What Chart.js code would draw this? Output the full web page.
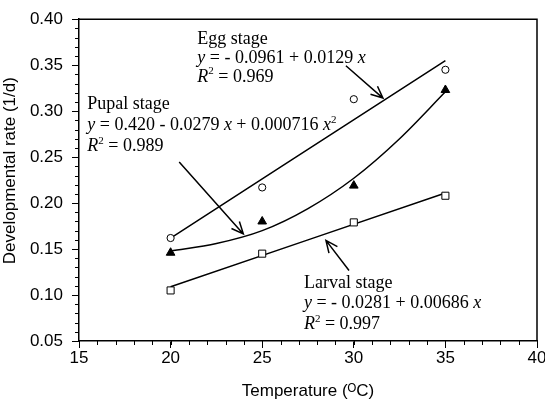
<!DOCTYPE html>
<html>
<head>
<meta charset="utf-8">
<script src="https://cdn.jsdelivr.net/npm/chart.js@4.4.1/dist/chart.umd.min.js"></script>
<style>
    html, body { margin: 0; padding: 0; background: #fff; }
</style>
</head>
<body>
<canvas id="chart" width="545" height="405"></canvas>
<script>
// measured rates (1/d) at each temperature
const temperatures = [20, 25, 30, 35];
const eggRate = [0.162, 0.217, 0.313, 0.345];
const pupalRate = [0.146, 0.180, 0.219, 0.323];
const larvalRate = [0.105, 0.145, 0.179, 0.208];

// fitted curves
const eggFitX = [20, 35];
const eggFitY = [0.162, 0.355];
const larvalFitX = [20, 35];
const larvalFitY = [0.109, 0.211];
const pupalFitX = [20, 22.5, 25, 27.5, 30, 32.5, 35];
const pupalFitY = [0.148, 0.156, 0.170, 0.194, 0.227, 0.270, 0.321];

const xTicks = [15, 20, 25, 30, 35, 40];
const yTicks = [0.05, 0.10, 0.15, 0.20, 0.25, 0.30, 0.35, 0.40];

// labels next to the curves: [style, text], n = normal, i = italic, s = superscript
const notes = [
    {
        at: [21.46, 0.3734], gap: 19, lines: [
            [["n", "Egg stage"]],
            [["i", "y"], ["n", " = - 0.0961 + 0.0129 "], ["i", "x"]],
            [["i", "R"], ["s", "2"], ["n", " = 0.969"]]
        ]
    },
    {
        at: [15.45, 0.3025], gap: 21.3, lines: [
            [["n", "Pupal stage"]],
            [["i", "y"], ["n", " = 0.420 - 0.0279 "], ["i", "x"], ["n", " + 0.000716 "], ["i", "x"], ["s", "2"]],
            [["i", "R"], ["s", "2"], ["n", " = 0.989"]]
        ]
    },
    {
        at: [27.28, 0.1079], gap: 20.7, lines: [
            [["n", "Larval stage"]],
            [["i", "y"], ["n", " = - 0.0281 + 0.00686 "], ["i", "x"]],
            [["i", "R"], ["s", "2"], ["n", " = 0.997"]]
        ]
    }
];

const arrows = [
    { from: [29.57, 0.3494], to: [31.59, 0.3142] },
    { from: [20.47, 0.2447], to: [23.97, 0.1665] },
    { from: [29.74, 0.1267], to: [28.48, 0.1594] }
];

const sansFont = '"Liberation Sans", Arial, "DejaVu Sans", sans-serif';
const serifFont = '"Liberation Serif", "Times New Roman", serif';
const axisFont = { family: sansFont, size: 17 };

function toPoints(xs, ys) {
    return xs.map((x, i) => ({ x: x, y: ys[i] }));
}

function markerSet(values, style, radius, fill) {
    return {
        data: toPoints(temperatures, values),
        showLine: false,
        pointStyle: style,
        pointRadius: radius,
        pointBorderColor: "#000",
        pointBorderWidth: 1,
        pointBackgroundColor: fill,
        order: 0
    };
}

function fitSet(xs, ys) {
    return {
        data: toPoints(xs, ys),
        showLine: true,
        borderColor: "#000",
        borderWidth: 1.5,
        pointRadius: 0,
        cubicInterpolationMode: "monotone",
        order: 1
    };
}

// frame on top/right plus the small outside ticks
const framePlugin = {
    id: "frame",
    afterDraw(chart) {
        const ctx = chart.ctx;
        const a = chart.chartArea;
        const xs = chart.scales.x;
        const ys = chart.scales.y;
        ctx.save();
        ctx.strokeStyle = "#000";
        ctx.lineWidth = 1.5;
        ctx.beginPath();
        ctx.moveTo(a.left, a.top);
        ctx.lineTo(a.right, a.top);
        ctx.lineTo(a.right, a.bottom);
        ctx.stroke();

        ctx.lineWidth = 1;
        ctx.beginPath();
        for (let v = xs.min; v <= xs.max; v += 1) {
            const px = Math.round(xs.getPixelForValue(v)) + 0.5;
            ctx.moveTo(px, a.bottom);
            ctx.lineTo(px, a.bottom + 4);
        }
        for (let i = 0; i <= 35; i++) {
            const py = Math.round(ys.getPixelForValue(ys.min + i * 0.01)) + 0.5;
            ctx.moveTo(a.left, py);
            ctx.lineTo(a.left - 4, py);
        }
        ctx.stroke();
        ctx.restore();
    }
};

function drawRichLine(ctx, x, y, parts, size) {
    parts.forEach(p => {
        const kind = p[0];
        const s = kind == "s" ? Math.round(size * 0.62) : size;
        ctx.font = (kind == "i" ? "italic " : "") + s + "px " + serifFont;
        const dy = kind == "s" ? -size * 0.42 : 0;
        ctx.fillText(p[1], x, y + dy);
        x += ctx.measureText(p[1]).width;
    });
}

function drawArrow(ctx, x1, y1, x2, y2) {
    const ang = Math.atan2(y2 - y1, x2 - x1);
    const len = 13;
    const spread = 0.42;
    ctx.beginPath();
    ctx.moveTo(x1, y1);
    ctx.lineTo(x2, y2);
    ctx.moveTo(x2 - len * Math.cos(ang - spread), y2 - len * Math.sin(ang - spread));
    ctx.lineTo(x2, y2);
    ctx.lineTo(x2 - len * Math.cos(ang + spread), y2 - len * Math.sin(ang + spread));
    ctx.stroke();
}

const notesPlugin = {
    id: "notes",
    afterDatasetsDraw(chart) {
        const ctx = chart.ctx;
        const xs = chart.scales.x;
        const ys = chart.scales.y;
        ctx.save();
        ctx.fillStyle = "#000";
        ctx.strokeStyle = "#000";
        ctx.lineWidth = 1.5;
        ctx.textBaseline = "alphabetic";
        ctx.textAlign = "left";
        notes.forEach(n => {
            const x = xs.getPixelForValue(n.at[0]);
            const y = ys.getPixelForValue(n.at[1]);
            n.lines.forEach((line, i) => drawRichLine(ctx, x, y + i * n.gap, line, 18));
        });
        arrows.forEach(ar => {
            drawArrow(ctx,
                xs.getPixelForValue(ar.from[0]), ys.getPixelForValue(ar.from[1]),
                xs.getPixelForValue(ar.to[0]), ys.getPixelForValue(ar.to[1]));
        });
        ctx.restore();
    }
};

const chart = new Chart(document.getElementById("chart").getContext("2d"), {
    type: "scatter",
    data: {
        datasets: [
            markerSet(eggRate, "circle", 3.6, "#fff"),
            markerSet(pupalRate, "triangle", 5, "#000"),
            markerSet(larvalRate, "rect", 5, "#fff"),
            fitSet(eggFitX, eggFitY),
            fitSet(pupalFitX, pupalFitY),
            fitSet(larvalFitX, larvalFitY)
        ]
    },
    options: {
        responsive: false,
        animation: false,
        devicePixelRatio: 1,
        layout: { padding: { top: 12.5, right: 8, left: 0, bottom: 0 } },
        plugins: {
            legend: { display: false },
            tooltip: { enabled: false }
        },
        scales: {
            x: {
                type: "linear",
                min: 15,
                max: 40,
                afterBuildTicks: s => { s.ticks = xTicks.map(v => ({ value: v })); },
                afterFit: s => { s.height = 64; s.paddingLeft = 0; s.paddingRight = 0; },
                grid: { drawOnChartArea: false, tickLength: 7, color: "#000", tickWidth: 1 },
                border: { display: true, color: "#000", width: 1.5 },
                ticks: { color: "#000", font: axisFont, padding: 0, maxRotation: 0, autoSkip: false },
                title: {
                    display: true,
                    text: "Temperature (\u1D3CC)",
                    color: "#000",
                    font: axisFont,
                    padding: { top: 0, bottom: 3 }
                }
            },
            y: {
                type: "linear",
                min: 0.05,
                max: 0.40,
                afterBuildTicks: s => { s.ticks = yTicks.map(v => ({ value: v })); },
                afterFit: s => { s.width = 79; },
                grid: { drawOnChartArea: false, tickLength: 7, color: "#000", tickWidth: 1 },
                border: { display: true, color: "#000", width: 1.5 },
                ticks: { color: "#000", font: axisFont, padding: 9, callback: v => v.toFixed(2) },
                title: {
                    display: true,
                    // leading spaces push the title up a bit, like in the original
                    text: "    Developmental rate (1/d)",
                    color: "#000",
                    font: axisFont,
                    padding: 0
                }
            }
        }
    },
    plugins: [framePlugin, notesPlugin]
});
</script>
</body>
</html>
